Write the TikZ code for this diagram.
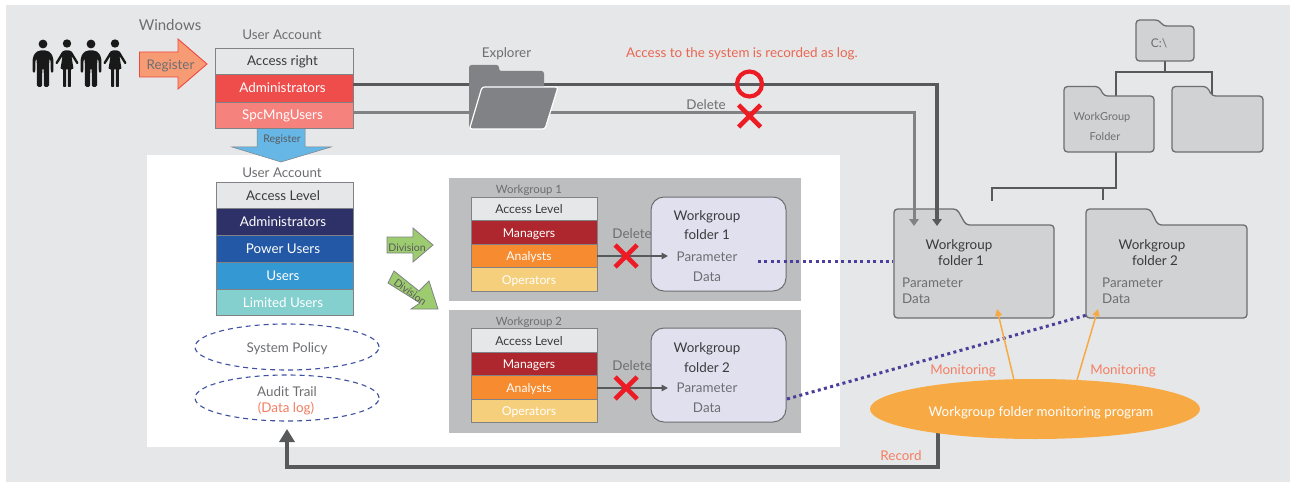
\documentclass[tikz,border=0pt]{standalone}
\usepackage{fontspec}
\setmainfont{Lato}
\usetikzlibrary{arrows.meta,shapes.geometric}
\definecolor{bgc}{HTML}{E6E7E8}
\definecolor{lab}{HTML}{6D6E71}
\definecolor{dk}{HTML}{3A3A3C}
\definecolor{lnd}{HTML}{58595B}
\definecolor{lng}{HTML}{808285}
\definecolor{redx}{HTML}{ED1C24}
\definecolor{coral}{HTML}{F47E62}
\definecolor{logc}{HTML}{EA6651}
\definecolor{orng}{HTML}{F7A944}
\definecolor{purp}{HTML}{4B3F9A}
\definecolor{dashc}{HTML}{3F51A0}
\definecolor{folderc}{HTML}{D1D2D4}
\definecolor{wgbox}{HTML}{BCBEC0}
\definecolor{lilac}{HTML}{E0E0EF}
\definecolor{rega}{HTML}{F79B74}
\definecolor{regb}{HTML}{F0483E}
\definecolor{blarrow}{HTML}{66B7E6}
\definecolor{admred}{HTML}{EF4D4B}
\definecolor{spcred}{HTML}{F6827E}
\definecolor{navy}{HTML}{2E3168}
\definecolor{pblue}{HTML}{2258A6}
\definecolor{ublue}{HTML}{3498D3}
\definecolor{ltq}{HTML}{83D0CF}
\definecolor{mgr}{HTML}{AE272E}
\definecolor{anl}{HTML}{F68B2F}
\definecolor{opr}{HTML}{F5CF7B}
\definecolor{divg}{HTML}{9DCB6F}
\newcommand{\fs}[1]{\fontsize{#1}{#1}\selectfont}
\tikzset{
 txt/.style={inner sep=0pt,text=lab,font=\fs{13.4},text height=10pt,text depth=0pt},
 dtxt/.style={txt,text=dk},
 wtxt/.style={txt,text=white},
 ctxt/.style={txt,text=coral},
 rowcell/.style={draw=lng,line width=0.9pt,inner sep=0pt,outer sep=0pt,anchor=north west,font=\fs{13.4},text=white,text height=10pt,text depth=0pt},
 fold/.style={draw=lab,line width=1.3pt,fill=folderc,rounded corners=3.5pt},
 thickln/.style={draw=lnd,line width=3.4pt},
 thinln/.style={draw=lng,line width=3pt},
 treeln/.style={draw=lnd,line width=1.2pt},
 dotln/.style={draw=purp,line width=3pt,dash pattern=on 3pt off 3.4pt},
 orarrow/.style={draw=orng,line width=1.5pt,-{Triangle[length=7pt,width=7pt]}},
 delarrow/.style={draw=lnd,line width=1.5pt,-{Triangle[length=6.5pt,width=6.5pt]}},
 dashell/.style={ellipse,draw=dashc,line width=1.1pt,dash pattern=on 5pt off 4pt,inner sep=0pt,minimum width=184pt,minimum height=46pt},
 crossmark/.style={draw=redx,line width=4.6pt},
 divarrow/.style={fill=divg,draw=lng,line width=0.8pt},
}
\newcommand{\rowcellat}[7]{% name,x,y1,x2,y2,fill,text
 \pgfmathsetmacro{\rw}{#4-#2}\pgfmathsetmacro{\rh}{#5-#3}
 \node[rowcell,fill=#6,minimum width=\rw pt,minimum height=\rh pt] (#1) at (#2,#3) {#7\hspace*{\rowpad}};}
\newlength{\rowpad}
\newcommand{\folderpath}[7]{% x1 y1 x2 y2 tabx1 tabx2 taby
 \draw[fold] (#1,#4) -- (#1,#2) -- (#5,#2) -- (#6,#7) -- (#3,#7) -- (#3,#4) -- cycle;}
\newcommand{\manfig}[1]{\begin{scope}[shift={(#1,0)}]
 \fill[black!90] (0,44) circle (4.4pt);
 \fill[black!90,rounded corners=1.6pt] (-10.3,73) -- (-10.3,58) -- (-8,53) -- (-4,50.5) -- (4,50.5) -- (8,53) -- (10.3,58) -- (10.3,73) -- (7.8,73) -- (7.6,60) -- (6.3,58) -- (6,87) -- (0.9,87) -- (0.7,68) -- (-0.7,68) -- (-0.9,87) -- (-6,87) -- (-6.3,58) -- (-7.6,60) -- (-7.8,73) -- cycle;
 \end{scope}}
\newcommand{\womanfig}[1]{\begin{scope}[shift={(#1,0)}]
 \fill[black!90] (0,43.5) circle (4.2pt);
 \fill[black!90,rounded corners=0.8pt] (-3,50.5) -- (3,50.5) -- (5,52) -- (11.7,63) -- (10,64.5) -- (4.5,56) -- (6.5,69) -- (4,69) -- (3.9,87) -- (0.9,87) -- (0.8,69) -- (-0.8,69) -- (-0.9,87) -- (-3.9,87) -- (-4,69) -- (-6.5,69) -- (-4.5,56) -- (-10,64.5) -- (-11.7,63) -- (-5,52) -- cycle;
 \end{scope}}
\newcommand{\redcross}[2]{\draw[crossmark] (#1-11,#2-11) -- (#1+11,#2+11) (#1-11,#2+11) -- (#1+11,#2-11);}
\begin{document}
\begin{tikzpicture}[x=1pt,y=-1pt]
\useasboundingbox (0,0) rectangle (1290,484);
\fill[bgc] (6,5) rectangle (1290,482);
\fill[white] (147,155) rectangle (840,447);

% people
\manfig{43}\womanfig{67}\manfig{91}\womanfig{115}
\node[txt,font=\fs{15}] (win) at (170,26) {Windows};
\draw[draw=regb,fill=rega,line width=0.9pt] (139.5,52) -- (178,52) -- (178,39) -- (207,64) -- (178,89) -- (178,77) -- (139.5,77) -- cycle;
\node[txt] (reg1) at (170.5,65) {Register};

% blue arrow
\draw[draw=lng,fill=blarrow,line width=0.5pt] (257,128) -- (305,128) -- (305,147) -- (331,147) -- (281,162) -- (232,147) -- (257,147) -- cycle;
\node[txt,font=\fs{10.5},text=lnd] (reg2) at (282,137.5) {Register};

% user account top
\setlength{\rowpad}{3pt}
\node[txt] (ua1) at (282,35) {User Account};
\rowcellat{ar}{215}{48}{353}{74}{bgc}{\textcolor{dk}{Access right}}
\rowcellat{adm}{215}{74}{353}{102}{admred}{Administrators}
\rowcellat{spc}{215}{102}{353}{128}{spcred}{SpcMngUsers}

% workgroup folders
\folderpath{894}{209}{1054}{318}{957}{966}{225}
\folderpath{1086}{209}{1247}{318}{1150}{1158}{225}

% access lines
\coordinate (t1) at (937,226); \coordinate (t2) at (914,226);
\coordinate (ya) at (353,84.5); \coordinate (ys) at (353,113);
\draw[thinln,-{Triangle[length=7pt,width=9.5pt]}] (ys) -| (t2);
\draw[thickln,-{Triangle[length=7pt,width=9.5pt]}] (ya) -| (t1);

% explorer
\node[txt] (expl) at (506.5,53) {Explorer};
\fill[lng,rounded corners=2.5pt] (469,128) -- (469,65) -- (499,65) -- (499,71) -- (544,71) -- (544,95) -- (500,125) -- cycle;
\draw[white,line width=1.2pt,fill=lng,rounded corners=2.5pt] (482,87) -- (558,87) -- (545,129) -- (469.5,129) -- cycle;
\node[txt,text=logc] (logt) at (742,53) {Access to the system is recorded as log.};
\node[circle,draw=redx,line width=4.2pt,minimum size=25pt,inner sep=0pt] (okc) at (749.5,84) {};
\redcross{749.5}{116}
\node[txt] (del0) at (706,105) {Delete};

% user account lower
\node[txt] (ua2) at (282,172) {User Account};
\rowcellat{al}{216}{182}{353}{208}{bgc}{\textcolor{dk}{Access Level}}
\rowcellat{ad2}{216}{208}{353}{235}{navy}{Administrators}
\rowcellat{pu}{216}{235}{353}{262}{pblue}{Power Users}
\rowcellat{us}{216}{262}{353}{289}{ublue}{Users}
\rowcellat{lu}{216}{289}{353}{315}{ltq}{Limited Users}
\node[dashell] (pol) at (287,347) {};
\node[txt] (polt) at (287,347) {System Policy};
\node[dashell] (aud) at (287,398) {};
\node[txt] (audt) at (287,391) {Audit Trail};
\node[ctxt] (audd) at (286,407) {(Data log)};

% division arrows
\draw[divarrow] (387,237) -- (413,237) -- (413,228) -- (433,245) -- (413,262) -- (413,253) -- (387,253) -- cycle;
\node[txt,font=\fs{10.5},text=lnd] (div1) at (407,246) {Division};
\draw[divarrow] (394,271) -- (419,291) -- (429,281) -- (438,309) -- (411,309) -- (420,303) -- (388,283) -- cycle;
\node[txt,font=\fs{10.5},text=lnd,rotate=-36] (div2) at (411,291) {Division};

% workgroups
\fill[wgbox] (449,178) rectangle (801,301);
\fill[wgbox] (449,310) rectangle (801,433);
\node[txt,font=\fs{11.4}] (w1t) at (529,188) {Workgroup 1};
\node[txt,font=\fs{11.4}] (w2t) at (529,320) {Workgroup 2};
\tikzset{rowcell/.append style={font=\fs{12.2}}}
\setlength{\rowpad}{10pt}
\rowcellat{a1}{471}{197}{597}{220}{bgc}{\textcolor{dk}{Access Level}}
\rowcellat{m1}{471}{220}{597}{244}{mgr}{Managers}
\rowcellat{n1}{471}{244}{597}{267}{anl}{Analysts}
\rowcellat{o1}{471}{267}{597}{291}{opr}{Operators}
\rowcellat{a2}{471}{328}{597}{352}{bgc}{\textcolor{dk}{Access Level}}
\rowcellat{m2}{471}{352}{597}{375}{mgr}{Managers}
\rowcellat{n2}{471}{375}{597}{399}{anl}{Analysts}
\rowcellat{o2}{471}{399}{597}{422}{opr}{Operators}
\node[txt] (d1) at (632,233) {Delete};
\node[txt] (d2) at (632,365) {Delete};
\node[draw=lab,line width=1pt,fill=lilac,rounded corners=13pt,minimum width=135pt,minimum height=94pt,inner sep=0pt] (b1) at (718.5,244) {};
\node[draw=lab,line width=1pt,fill=lilac,rounded corners=13pt,minimum width=135pt,minimum height=94pt,inner sep=0pt] (b2) at (718.5,375) {};
\node[dtxt] (b1a) at (707,215) {Workgroup};
\node[dtxt] (b1b) at (707,234) {folder 1};
\node[txt] (b1c) at (707,256) {Parameter};
\node[txt] (b1d) at (707,276) {Data};
\node[dtxt] (b2a) at (707,347) {Workgroup};
\node[dtxt] (b2b) at (707,367) {folder 2};
\node[txt] (b2c) at (707,387) {Parameter};
\node[txt] (b2d) at (707,407) {Data};
\coordinate (e1) at (668,256); \coordinate (e2) at (668,388);
\draw[delarrow] (n1.east |- e1) -- (e1);
\draw[delarrow] (n2.east |- e2) -- (e2);
\redcross{626}{256}
\redcross{626}{388}

% folder tree
\coordinate (c1) at (1165,61); \coordinate (c2) at (1165,72);
\coordinate (c3) at (1116,72); \coordinate (c4) at (1116,96);
\coordinate (c5) at (1212,72); \coordinate (c6) at (1212,96);
\coordinate (c7) at (1116,152); \coordinate (c8) at (1116,188);
\coordinate (c9) at (992,188); \coordinate (c10) at (992,201);
\coordinate (c11) at (1103,188); \coordinate (c12) at (1103,200);
\draw[treeln,line width=1.7pt] (c1) -- (c2);
\draw[treeln] (c4) -- (c3) -- (c5) -- (c6);
\draw[treeln] (c7) -- (c8) -- (c9) -- (c10);
\draw[treeln,line width=1.7pt] (c11) -- (c12);
\folderpath{1136}{20}{1194}{61}{1159}{1163}{26}
\node[txt,font=\fs{12}] (cdrive) at (1159,43) {C:\textbackslash};
\folderpath{1064}{86.5}{1154}{152}{1099}{1104}{96}
\node[txt,font=\fs{11}] (wgf1) at (1102,116) {WorkGroup};
\node[txt,font=\fs{11}] (wgf2) at (1105,136) {Folder};
\folderpath{1172}{86.5}{1263}{152}{1207}{1212}{96}

\node[dtxt] (f1a) at (959,244) {Workgroup};
\node[dtxt] (f1b) at (961,260) {folder 1};
\node[txt,anchor=west] (f1c) at (902,282) {Parameter};
\node[txt,anchor=west] (f1d) at (902,298) {Data};
\node[dtxt] (f2a) at (1152,244) {Workgroup};
\node[dtxt] (f2b) at (1155,260) {folder 2};
\node[txt,anchor=west] (f2c) at (1102,282) {Parameter};
\node[txt,anchor=west] (f2d) at (1102,298) {Data};

% dotted links
\coordinate (ds1) at (758,261); \coordinate (de1) at (893,261);
\coordinate (ds2) at (787,399); \coordinate (de2) at (1087,315);
\draw[dotln] (ds1) -- (de1);
\draw[dotln] (ds2) -- (de2);

% record line and monitor
\coordinate (rc) at (938,467);
\coordinate (rt) at (287,429);
\draw[thickln,-{Triangle[length=13pt,width=15pt]}] (938,430) -- (rc) -- (rc -| rt) -- (rt);
\node[ellipse,fill=orng,minimum width=330pt,minimum height=60pt,inner sep=0pt] (mon) at (1035,409) {};
\node[wtxt] (mont) at (1041,411) {Workgroup folder monitoring program};
\coordinate (m1) at (997,309); \coordinate (m2) at (1098,309);
\coordinate (ms1) at (1014,380); \coordinate (ms2) at (1077,380);
\draw[orarrow] (ms1) -- (m1);
\draw[orarrow] (ms2) -- (m2);
\node[ctxt] (ml1) at (963,369) {Monitoring};
\node[ctxt] (ml2) at (1123,369) {Monitoring};
\node[ctxt] (rec) at (901,455) {Record};
\end{tikzpicture}
\end{document}
